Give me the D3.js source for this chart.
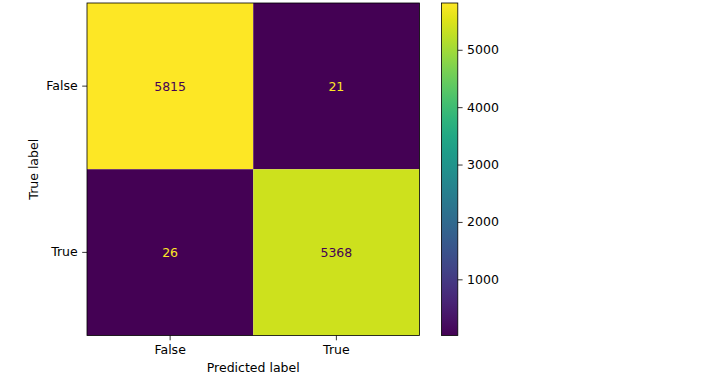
<!DOCTYPE html>
<html>
<head>
<meta charset="utf-8">
<script src="https://cdn.jsdelivr.net/npm/d3@7"></script>
<style>
  body { margin: 0; background: #fff; }
  text { font-family: "DejaVu Sans", sans-serif; }
</style>
</head>
<body>
<div id="chart"></div>
<script>
// confusion matrix data
var classes = ["False", "True"];
var matrix = [
  [5815, 21],
  [26, 5368]
];
var cbarTicks = [1000, 2000, 3000, 4000, 5000];

var W = 711, H = 389;
var plot = {left: 87, top: 3, size: 332.5};
var cbar = {left: 441.5, width: 16.3};
var fontSize = 12.5;

var svg = d3.select("#chart").append("svg")
  .attr("width", W)
  .attr("height", H);

var flat = matrix.flat();
var vmin = d3.min(flat), vmax = d3.max(flat);
var color = d3.scaleSequential(d3.interpolateViridis).domain([vmin, vmax]);

var x = d3.scaleBand().domain(classes).range([plot.left, plot.left + plot.size]);
var y = d3.scaleBand().domain(classes).range([plot.top, plot.top + plot.size]);

var cells = [];
matrix.forEach(function(row, i) {
  row.forEach(function(v, j) {
    cells.push({t: classes[i], p: classes[j], v: v});
  });
});

var thresh = (vmax + vmin) / 2;

svg.append("g").selectAll("rect")
  .data(cells).enter()
  .append("rect")
  .attr("x", d => x(d.p))
  .attr("y", d => y(d.t))
  .attr("width", x.bandwidth())
  .attr("height", y.bandwidth())
  .attr("fill", d => color(d.v));

svg.append("g").selectAll("text")
  .data(cells).enter()
  .append("text")
  .attr("x", d => x(d.p) + x.bandwidth() / 2)
  .attr("y", d => y(d.t) + y.bandwidth() / 2)
  .attr("dy", "0.35em")
  .attr("text-anchor", "middle")
  .style("font-size", fontSize + "px")
  .attr("fill", d => d.v < thresh ? color(vmax) : color(vmin))
  .text(d => d.v);

// frame
svg.append("rect")
  .attr("x", plot.left).attr("y", plot.top)
  .attr("width", plot.size).attr("height", plot.size)
  .attr("fill", "none").attr("stroke", "#000").attr("stroke-width", 0.8);

function styleAxis(g) {
  g.select(".domain").remove();
  g.selectAll(".tick line").attr("stroke", "#000").attr("stroke-width", 0.8);
  g.selectAll(".tick text").style("font-size", fontSize + "px").attr("fill", "#000");
}

svg.append("g")
  .attr("transform", "translate(0," + (plot.top + plot.size) + ")")
  .call(d3.axisBottom(x).tickSize(4.8).tickPadding(4.5))
  .call(styleAxis);

svg.append("g")
  .attr("transform", "translate(" + plot.left + ",0)")
  .call(d3.axisLeft(y).tickSize(4.8).tickPadding(4.5))
  .call(styleAxis);

svg.append("text")
  .attr("x", plot.left + plot.size / 2)
  .attr("y", 372)
  .attr("text-anchor", "middle")
  .style("font-size", fontSize + "px")
  .text("Predicted label");

svg.append("text")
  .attr("transform", "translate(38," + (plot.top + plot.size / 2) + ") rotate(-90)")
  .attr("text-anchor", "middle")
  .style("font-size", fontSize + "px")
  .text("True label");

// colorbar
var cy = d3.scaleLinear().domain([vmin, vmax]).range([plot.top + plot.size, plot.top]);
var grad = svg.append("defs").append("linearGradient")
  .attr("id", "cbar-grad")
  .attr("x1", 0).attr("y1", 1).attr("x2", 0).attr("y2", 0);
d3.range(0, 1.0001, 0.05).forEach(function(t) {
  grad.append("stop")
    .attr("offset", t)
    .attr("stop-color", d3.interpolateViridis(t));
});

svg.append("rect")
  .attr("x", cbar.left).attr("y", plot.top)
  .attr("width", cbar.width).attr("height", plot.size)
  .attr("fill", "url(#cbar-grad)")
  .attr("stroke", "#000").attr("stroke-width", 0.8);

svg.append("g")
  .attr("transform", "translate(" + (cbar.left + cbar.width) + ",0)")
  .call(d3.axisRight(cy).tickValues(cbarTicks).tickFormat(d3.format("d"))
    .tickSize(4.8).tickPadding(4.5))
  .call(styleAxis);
</script>
</body>
</html>
